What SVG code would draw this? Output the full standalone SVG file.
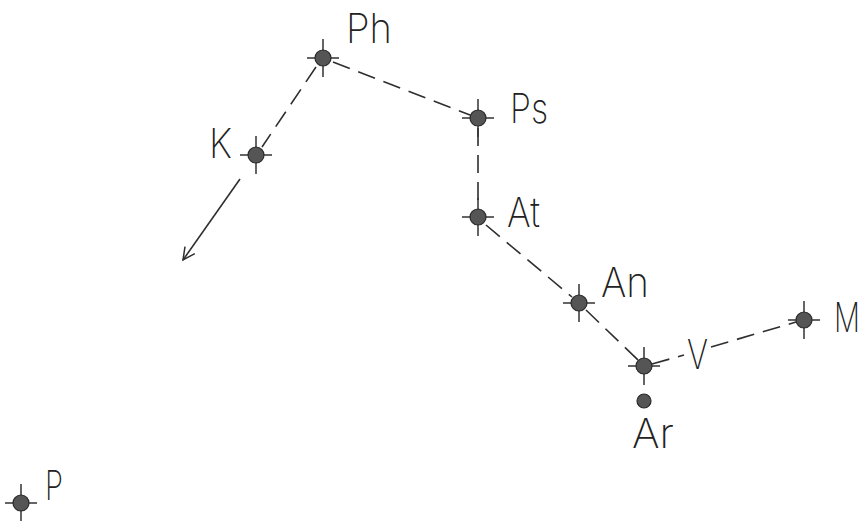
<svg xmlns="http://www.w3.org/2000/svg" width="866" height="521" viewBox="0 0 866 521">
<defs>
<style>
.dot{fill:#555;stroke:#2a2a2a;stroke-width:1.2}
.cross{stroke:#333;stroke-width:1.5;fill:none}
.dash{stroke:#2e2e2e;stroke-width:1.6;fill:none;stroke-dasharray:18 9}
.solid{stroke:#2e2e2e;stroke-width:1.6;fill:none}
text{font-family:Inter,"Liberation Sans",Arial,sans-serif;font-weight:250;font-size:41px;fill:#222}
</style>
<g id="star">
<path class="cross" d="M0,-19V19M-16,0H16"/>
<circle class="dot" r="8"/>
</g>
<marker id="arr" markerWidth="16" markerHeight="16" refX="14" refY="8" orient="auto" markerUnits="userSpaceOnUse">
<path d="M2,2L14,8L2,14" fill="none" stroke="#2e2e2e" stroke-width="1.5"/>
</marker>
</defs>
<rect width="866" height="521" fill="#fff"/>
<g id="connectors">
<line class="dash" x1="316" y1="67" x2="262" y2="147"/>
<line class="dash" x1="333" y1="62" x2="470" y2="115"/>
<line class="dash" x1="478" y1="128" x2="478" y2="206"/>
<line class="dash" x1="486" y1="225" x2="572" y2="297"/>
<line class="dash" x1="586" y1="310" x2="638" y2="360"/>
<line class="dash" x1="652" y1="364" x2="684" y2="355"/>
<line class="dash" x1="711" y1="347" x2="796" y2="322"/>
<line class="solid" x1="240" y1="179" x2="183" y2="260" marker-end="url(#arr)"/>
</g>
<g id="node-Ph"><use href="#star" x="323" y="58"/><text x="346" y="43" textLength="46" lengthAdjust="spacingAndGlyphs">Ph</text></g>
<g id="node-K"><use href="#star" x="256" y="155"/><text x="209" y="158" textLength="23" lengthAdjust="spacingAndGlyphs">K</text></g>
<g id="node-Ps"><use href="#star" x="478" y="118"/><text x="510" y="123" textLength="38" lengthAdjust="spacingAndGlyphs">Ps</text></g>
<g id="node-At"><use href="#star" x="478" y="217"/><text x="507" y="227" textLength="33" lengthAdjust="spacingAndGlyphs">At</text></g>
<g id="node-An"><use href="#star" x="579" y="303"/><text x="601" y="297" textLength="48" lengthAdjust="spacingAndGlyphs">An</text></g>
<g id="node-Ar"><use href="#star" x="644" y="366"/><circle class="dot" cx="644" cy="401" r="7"/><text x="632" y="448" textLength="42" lengthAdjust="spacingAndGlyphs">Ar</text></g>
<g id="node-V"><text x="687" y="369" textLength="21" lengthAdjust="spacingAndGlyphs">V</text></g>
<g id="node-M"><use href="#star" x="804" y="320"/><text x="834" y="332" textLength="26" lengthAdjust="spacingAndGlyphs">M</text></g>
<g id="node-P"><use href="#star" x="21" y="503"/><text x="45" y="500" textLength="18" lengthAdjust="spacingAndGlyphs">P</text></g>
</svg>
